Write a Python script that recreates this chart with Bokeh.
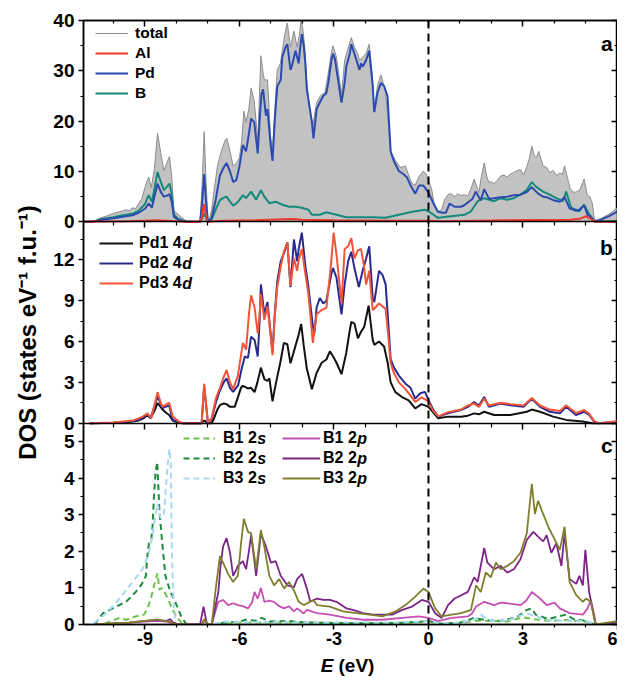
from bokeh.plotting import figure
from bokeh.layouts import column
from bokeh.models import Range1d, LinearAxis, FixedTicker, Span, Legend, LegendItem, Label
from bokeh.embed import file_html
from bokeh.resources import INLINE

FONT = "Liberation Sans"

# ---------------- panel a : total / Al / Pd / B (E in eV, DOS) ----------------
total = [(-10.95, 0), (-10.65, 0), (-10.4, 0.8), (-10.2, 1.2), (-10.0, 1.7), (-9.8, 2.0), (-9.6, 2.4),
         (-9.5, 2.2), (-9.4, 2.8), (-9.3, 2.6), (-9.2, 3.6), (-9.1, 4.6), (-9.0, 6.8), (-8.95, 7.8),
         (-8.88, 8.9), (-8.8, 6.8), (-8.7, 10.5), (-8.6, 17.6), (-8.5, 13.8), (-8.4, 10.2), (-8.3, 11.8),
         (-8.22, 13.0), (-8.15, 9.0), (-8.08, 2.2), (-8.0, 1.8), (-7.85, 1.0), (-7.7, 0.2), (-7.6, 0),
         (-7.25, 0), (-7.18, 8.0), (-7.12, 17.9), (-7.06, 8.0), (-7.0, 0.3), (-6.95, 0.5), (-6.88, 2.5),
         (-6.8, 6.5), (-6.7, 11.0), (-6.62, 13.0), (-6.55, 14.5), (-6.45, 16.3), (-6.4, 16.6), (-6.3, 14.0),
         (-6.2, 11.1), (-6.1, 11.6), (-6.0, 12.7), (-5.93, 16.0), (-5.86, 22.0), (-5.79, 19.8), (-5.7, 22.5),
         (-5.63, 26.6), (-5.53, 24.0), (-5.42, 16.3), (-5.37, 24.0), (-5.32, 33.0), (-5.26, 30.0),
         (-5.21, 28.2), (-5.11, 28.2), (-5.01, 16.9), (-4.95, 14.0), (-4.88, 22.0), (-4.8, 30.2),
         (-4.7, 31.5), (-4.64, 34.0), (-4.55, 37.5), (-4.48, 39.5), (-4.38, 34.7), (-4.27, 37.9),
         (-4.17, 34.7), (-4.1, 37.0), (-4.04, 40.2), (-3.98, 38.0), (-3.91, 33.4), (-3.86, 27.6),
         (-3.77, 22.0), (-3.67, 19.2), (-3.55, 23.7), (-3.45, 24.8), (-3.39, 25.3), (-3.29, 25.6),
         (-3.18, 29.5), (-3.1, 33.0), (-3.03, 35.0), (-2.92, 32.7), (-2.84, 29.0), (-2.76, 25.3),
         (-2.66, 32.1), (-2.55, 34.5), (-2.45, 36.6), (-2.35, 34.7), (-2.25, 33.5), (-2.19, 32.1),
         (-2.09, 32.7), (-1.98, 33.5), (-1.88, 35.3), (-1.77, 28.2), (-1.72, 22.0), (-1.62, 27.0),
         (-1.51, 29.2), (-1.43, 27.5), (-1.36, 25.6), (-1.28, 20.0), (-1.2, 13.7), (-1.12, 13.0),
         (-1.04, 12.1), (-0.89, 10.8), (-0.73, 11.1), (-0.62, 9.1), (-0.52, 7.6), (-0.42, 7.3),
         (-0.3, 9.0), (-0.16, 10.1), (-0.08, 9.5), (0.0, 8.3), (0.1, 6.5), (0.2, 2.8), (0.31, 2.0),
         (0.42, 2.5), (0.52, 4.5), (0.62, 5.4), (0.72, 5.6), (0.83, 5.0), (0.93, 5.6), (1.03, 5.2),
         (1.14, 5.4), (1.25, 5.1), (1.35, 6.6), (1.45, 8.5), (1.6, 5.8), (1.68, 9.0), (1.77, 11.7),
         (1.85, 9.0), (1.92, 7.8), (2.0, 8.0), (2.08, 7.6), (2.18, 8.2), (2.29, 9.1), (2.4, 9.3),
         (2.5, 8.9), (2.6, 9.5), (2.71, 9.8), (2.82, 10.2), (2.92, 10.4), (3.02, 9.3), (3.12, 11.0),
         (3.2, 12.5), (3.28, 15.0), (3.36, 13.2), (3.43, 12.8), (3.5, 14.0), (3.64, 11.1), (3.75, 10.8),
         (3.85, 9.8), (3.96, 10.2), (4.06, 9.2), (4.17, 9.7), (4.25, 9.4), (4.32, 11.1), (4.42, 8.5),
         (4.5, 6.6), (4.58, 5.9), (4.68, 5.9), (4.8, 6.3), (4.94, 8.5), (5.04, 5.3), (5.12, 5.0),
         (5.2, 3.7), (5.27, 0.3), (5.45, 0.6), (5.7, 1.4), (6.0, 2.8)]

pd_tot = [(-10.95, 0), (-10.65, 0), (-10.4, 0.4), (-10.0, 0.7), (-9.7, 1.0), (-9.4, 1.3), (-9.2, 1.8),
          (-9.0, 2.6), (-8.88, 3.6), (-8.78, 2.8), (-8.7, 5.0), (-8.6, 7.6), (-8.5, 6.0), (-8.4, 5.0),
          (-8.3, 5.2), (-8.22, 5.5), (-8.15, 4.0), (-8.08, 1.0), (-7.9, 0.3), (-7.7, 0), (-7.25, 0),
          (-7.18, 4.0), (-7.12, 9.5), (-7.06, 4.0), (-7.0, 0), (-6.88, 0.8), (-6.75, 4.5), (-6.62, 9.2),
          (-6.5, 10.8), (-6.41, 11.7), (-6.3, 10.0), (-6.2, 7.9), (-6.1, 8.3), (-6.0, 11.0), (-5.89, 15.3),
          (-5.79, 14.0), (-5.7, 17.5), (-5.63, 20.5), (-5.53, 19.8), (-5.42, 13.6), (-5.36, 20.0),
          (-5.3, 25.5), (-5.25, 26.3), (-5.16, 21.1), (-5.11, 22.4), (-5.01, 15.3), (-4.95, 12.1),
          (-4.88, 20.0), (-4.8, 26.9), (-4.69, 28.2), (-4.64, 32.7), (-4.54, 34.7), (-4.48, 35.3),
          (-4.38, 30.2), (-4.33, 31.1), (-4.22, 34.0), (-4.12, 31.5), (-4.07, 34.7), (-4.02, 37.3),
          (-3.96, 35.0), (-3.91, 31.5), (-3.86, 26.3), (-3.7, 19.8), (-3.65, 16.6), (-3.55, 22.4),
          (-3.45, 23.7), (-3.34, 25.0), (-3.24, 25.6), (-3.18, 27.6), (-3.08, 32.1), (-3.03, 33.4),
          (-2.97, 32.4), (-2.87, 28.2), (-2.76, 23.7), (-2.66, 27.6), (-2.61, 30.8), (-2.5, 33.4),
          (-2.45, 35.3), (-2.35, 33.4), (-2.19, 30.2), (-2.14, 31.5), (-2.09, 30.8), (-1.98, 32.1),
          (-1.88, 34.0), (-1.77, 27.0), (-1.72, 21.8), (-1.62, 25.6), (-1.51, 27.6), (-1.41, 27.0),
          (-1.3, 25.0), (-1.2, 14.0), (-1.1, 12.1), (-0.94, 10.1), (-0.8, 9.5), (-0.68, 8.8),
          (-0.55, 7.0), (-0.42, 5.6), (-0.3, 7.2), (-0.16, 7.2), (0.0, 5.8), (0.15, 3.8), (0.3, 2.0),
          (0.45, 1.8), (0.55, 1.8), (0.67, 3.6), (0.83, 3.0), (1.03, 3.0), (1.14, 3.3), (1.4, 4.6),
          (1.5, 6.0), (1.66, 4.3), (1.77, 6.5), (1.92, 4.6), (2.08, 4.7), (2.29, 4.9), (2.5, 5.0),
          (2.7, 5.3), (2.92, 5.4), (3.12, 5.9), (3.28, 6.9), (3.48, 5.6), (3.64, 5.0), (3.75, 4.9),
          (3.96, 4.3), (4.17, 4.0), (4.32, 4.9), (4.48, 2.7), (4.68, 2.2), (4.79, 2.4), (4.94, 3.3),
          (5.05, 1.4), (5.15, 1.1), (5.25, 0.2), (5.3, 0), (5.5, 0.5), (5.75, 1.2), (6.0, 2.1)]

b_tot = [(-10.95, 0), (-10.65, 0), (-10.4, 0.5), (-10.0, 0.9), (-9.7, 1.3), (-9.4, 1.6), (-9.2, 2.2),
         (-9.0, 3.5), (-8.88, 5.3), (-8.78, 4.0), (-8.7, 6.5), (-8.6, 9.9), (-8.5, 8.0), (-8.4, 6.3),
         (-8.3, 7.0), (-8.22, 7.6), (-8.15, 5.5), (-8.08, 1.4), (-7.95, 0.6), (-7.7, 0.1), (-7.6, 0),
         (-7.25, 0), (-7.18, 0.8), (-7.12, 1.7), (-7.06, 0.8), (-7.0, 0), (-6.88, 0.5), (-6.75, 2.5),
         (-6.62, 4.3), (-6.5, 4.8), (-6.41, 5.0), (-6.3, 4.0), (-6.2, 3.2), (-6.04, 4.0), (-5.89, 5.3),
         (-5.79, 4.7), (-5.63, 6.0), (-5.47, 4.4), (-5.32, 6.3), (-5.21, 5.0), (-5.05, 3.7), (-4.85, 4.0),
         (-4.64, 3.4), (-4.43, 3.0), (-4.22, 3.0), (-4.02, 2.8), (-3.81, 2.4), (-3.7, 1.4), (-3.45, 1.4),
         (-3.24, 1.9), (-2.92, 1.4), (-2.61, 0.9), (-2.19, 0.9), (-1.77, 0.9), (-1.36, 0.8), (-0.94, 1.4),
         (-0.52, 2.0), (-0.11, 2.4), (0.0, 2.1), (0.3, 0.8), (0.72, 1.1), (1.14, 1.4), (1.35, 2.1),
         (1.56, 4.1), (1.77, 4.7), (2.08, 4.1), (2.29, 4.7), (2.5, 4.4), (2.71, 4.7), (2.92, 5.4),
         (3.12, 6.3), (3.28, 7.9), (3.43, 6.9), (3.64, 6.0), (3.85, 5.4), (4.06, 4.7), (4.27, 4.1),
         (4.37, 6.0), (4.53, 2.8), (4.79, 2.1), (4.94, 3.4), (5.1, 1.5), (5.25, 0.3), (5.3, 0.1),
         (6.0, 0.1)]

al_tot = [(-10.95, 0), (-10.5, 0.05), (-9.5, 0.1), (-8.6, 0.3), (-8.0, 0.1), (-7.7, 0), (-7.25, 0),
          (-7.2, 0.8), (-7.12, 3.5), (-7.05, 0.8), (-7.0, 0), (-6.9, 0.05), (-6.5, 0.2), (-5.5, 0.3),
          (-4.6, 0.5), (-4.3, 0.55), (-4.0, 0.4), (-3.0, 0.3), (-2.0, 0.25), (-1.0, 0.2), (0.0, 0.2),
          (0.5, 0.1), (1.5, 0.2), (2.5, 0.3), (3.5, 0.35), (4.5, 0.4), (4.8, 0.6), (5.0, 1.1),
          (5.15, 0.6), (5.3, 0), (6.0, 0)]

# ---------------- panel b : Pd 4d partial DOS ----------------
pd1_4d = [(-10.75, 0), (-10.0, 0.03), (-9.5, 0.08), (-9.2, 0.2), (-9.05, 0.35), (-8.92, 0.6), (-8.82, 0.35),
          (-8.7, 0.9), (-8.6, 1.48), (-8.5, 1.2), (-8.44, 1.0), (-8.35, 0.8), (-8.23, 0.6), (-8.12, 0.2),
          (-7.95, 0.05), (-7.8, 0), (-7.2, 0), (-7.12, 0.2), (-7.0, 0), (-6.88, 0), (-6.8, 0.4), (-6.7, 1.0),
          (-6.62, 1.32), (-6.5, 1.45), (-6.41, 1.4), (-6.3, 1.2), (-6.15, 1.2), (-6.05, 1.9), (-5.95, 2.6),
          (-5.89, 2.75), (-5.73, 2.55), (-5.63, 2.6), (-5.52, 2.28), (-5.43, 3.0), (-5.32, 4.08),
          (-5.21, 3.24), (-5.11, 3.1), (-5.05, 3.3), (-4.95, 1.6), (-4.88, 2.5), (-4.8, 3.4), (-4.7, 4.5),
          (-4.59, 5.9), (-4.48, 5.8), (-4.38, 4.4), (-4.22, 5.7), (-4.12, 6.5), (-4.04, 7.3), (-3.96, 5.7),
          (-3.86, 4.0), (-3.7, 2.5), (-3.55, 3.7), (-3.39, 4.44), (-3.24, 4.68), (-3.13, 5.28),
          (-3.03, 4.92), (-2.92, 4.44), (-2.76, 3.6), (-2.61, 5.16), (-2.5, 6.8), (-2.45, 7.44),
          (-2.35, 7.32), (-2.24, 6.24), (-2.14, 6.72), (-2.04, 7.08), (-1.9, 8.64), (-1.77, 6.12),
          (-1.72, 5.76), (-1.57, 6.0), (-1.41, 5.64), (-1.3, 4.5), (-1.2, 3.0), (-1.05, 2.28),
          (-0.84, 1.92), (-0.63, 1.68), (-0.42, 1.08), (-0.22, 1.4), (0.0, 1.2), (0.15, 0.8),
          (0.31, 0.36), (0.62, 0.48), (1.03, 0.48), (1.25, 0.55), (1.45, 0.72), (1.6, 0.65),
          (1.77, 0.84), (2.08, 0.6), (2.6, 0.6), (3.12, 0.84), (3.28, 1.0), (3.54, 0.84), (3.96, 0.48),
          (4.37, 0.24), (4.89, 0.12), (5.2, 0), (6.0, 0)]

pd2_4d = [(-10.75, 0), (-10.0, 0.03), (-9.5, 0.1), (-9.2, 0.25), (-9.05, 0.45), (-8.92, 0.65), (-8.82, 0.4),
          (-8.7, 1.2), (-8.6, 2.0), (-8.5, 1.4), (-8.44, 1.1), (-8.35, 1.2), (-8.23, 1.3), (-8.12, 0.25),
          (-7.95, 0.08), (-7.8, 0), (-7.2, 0), (-7.12, 2.7), (-7.0, 0), (-6.88, 0.3), (-6.75, 1.5),
          (-6.62, 2.4), (-6.5, 3.0), (-6.41, 3.3), (-6.3, 2.6), (-6.2, 2.3), (-6.04, 2.8), (-5.93, 4.0),
          (-5.83, 4.9), (-5.73, 4.8), (-5.63, 6.36), (-5.52, 6.12), (-5.42, 4.9), (-5.36, 7.5),
          (-5.32, 10.2), (-5.21, 8.0), (-5.11, 8.9), (-5.01, 6.6), (-4.95, 5.2), (-4.88, 8.0),
          (-4.8, 10.4), (-4.69, 11.9), (-4.57, 12.6), (-4.48, 13.3), (-4.38, 10.0), (-4.27, 13.5),
          (-4.17, 11.9), (-4.12, 12.8), (-4.02, 14.0), (-3.91, 11.6), (-3.81, 10.0), (-3.67, 7.1),
          (-3.62, 6.6), (-3.55, 8.5), (-3.45, 9.2), (-3.34, 8.8), (-3.24, 9.0), (-3.08, 11.0),
          (-3.03, 11.4), (-2.92, 10.7), (-2.76, 8.0), (-2.66, 10.2), (-2.55, 11.9), (-2.45, 12.6),
          (-2.35, 11.4), (-2.21, 10.0), (-2.09, 11.2), (-1.98, 12.1), (-1.88, 13.0), (-1.77, 9.2),
          (-1.72, 8.9), (-1.57, 11.2), (-1.46, 10.9), (-1.36, 10.2), (-1.28, 7.5), (-1.2, 4.7),
          (-1.1, 4.1), (-0.94, 3.5), (-0.73, 2.9), (-0.57, 2.6), (-0.42, 1.8), (-0.26, 2.2),
          (-0.11, 2.3), (0.0, 1.7), (0.15, 1.0), (0.31, 0.48), (0.62, 0.72), (1.03, 0.96), (1.25, 1.2),
          (1.45, 1.56), (1.6, 1.3), (1.77, 1.92), (1.92, 1.2), (2.29, 1.44), (2.6, 1.32), (3.02, 1.2),
          (3.28, 1.8), (3.54, 1.2), (3.85, 0.84), (4.17, 0.72), (4.37, 1.2), (4.68, 0.6), (4.94, 0.84),
          (5.1, 0.6), (5.26, 0.12), (5.4, 0), (6.0, 0.1)]

pd3_4d = [(-10.75, 0), (-10.0, 0.05), (-9.38, 0.19), (-9.07, 0.48), (-8.92, 0.72), (-8.8, 0.36), (-8.7, 1.3),
          (-8.6, 2.28), (-8.5, 1.5), (-8.44, 1.2), (-8.35, 1.35), (-8.23, 1.5), (-8.12, 0.5), (-7.92, 0.1),
          (-7.8, 0), (-7.2, 0), (-7.12, 2.9), (-7.0, 0), (-6.88, 0.4), (-6.75, 1.8), (-6.62, 2.6),
          (-6.5, 3.4), (-6.41, 3.9), (-6.3, 3.0), (-6.2, 2.5), (-6.05, 3.5), (-5.89, 5.9), (-5.79, 5.4),
          (-5.7, 8.0), (-5.63, 9.4), (-5.52, 8.5), (-5.42, 6.6), (-5.36, 8.0), (-5.32, 9.5), (-5.21, 7.6),
          (-5.11, 8.6), (-5.01, 6.4), (-4.95, 5.0), (-4.88, 7.8), (-4.8, 10.0), (-4.69, 11.5),
          (-4.59, 12.6), (-4.48, 13.3), (-4.38, 10.1), (-4.27, 12.1), (-4.17, 11.2), (-4.12, 12.0),
          (-4.02, 12.8), (-3.91, 11.0), (-3.81, 9.5), (-3.67, 5.9), (-3.55, 8.0), (-3.4, 8.3),
          (-3.24, 8.5), (-3.1, 11.5), (-3.01, 14.0), (-2.92, 12.4), (-2.76, 8.8), (-2.66, 12.8),
          (-2.55, 13.0), (-2.45, 13.6), (-2.35, 12.1), (-2.24, 12.7), (-2.14, 12.8), (-2.05, 11.6),
          (-1.98, 10.2), (-1.88, 11.2), (-1.77, 8.3), (-1.57, 8.8), (-1.36, 8.4), (-1.28, 6.5),
          (-1.2, 4.4), (-1.1, 3.7), (-0.94, 3.0), (-0.73, 2.5), (-0.42, 1.56), (-0.22, 1.9), (0.0, 1.6),
          (0.15, 0.9), (0.31, 0.5), (0.62, 0.8), (1.03, 1.0), (1.25, 1.3), (1.45, 1.44), (1.6, 1.2),
          (1.77, 1.8), (1.92, 1.3), (2.29, 1.5), (2.6, 1.4), (3.02, 1.3), (3.28, 1.85), (3.54, 1.3),
          (3.85, 1.0), (4.17, 0.9), (4.37, 1.32), (4.68, 0.75), (4.94, 0.96), (5.1, 0.7), (5.26, 0.15),
          (5.4, 0), (6.0, 0.15)]

# ---------------- panel c : B 2s / 2p partial DOS ----------------
b1_2s = [(-10.6, 0), (-10.3, 0.02), (-9.8, 0.18), (-9.6, 0.13), (-9.3, 0.22), (-9.03, 0.27), (-8.91, 0.45),
         (-8.8, 0.75), (-8.7, 1.1), (-8.6, 1.4), (-8.54, 0.95), (-8.45, 1.0), (-8.3, 0.76), (-8.14, 0.44),
         (-7.98, 0.18), (-7.83, 0.04), (-7.7, 0), (-7.2, 0), (-7.12, 0.03), (-6.9, 0), (-6.0, 0.05),
         (-4.0, 0.05), (-2.0, 0.04), (-0.5, 0.05), (0.0, 0.1), (0.3, 0.02), (1.0, 0.05), (1.5, 0.1),
         (2.0, 0.1), (2.5, 0.08), (3.0, 0.2), (3.3, 0.15), (3.8, 0.1), (4.4, 0.12), (5.0, 0.08),
         (5.3, 0), (6.0, 0)]

b2_2s = [(-10.6, 0), (-10.33, 0.31), (-9.91, 0.49), (-9.6, 0.62), (-9.29, 0.89), (-9.1, 1.1), (-8.97, 1.33),
         (-8.92, 1.9), (-8.87, 2.22), (-8.8, 2.3), (-8.76, 2.67), (-8.71, 3.56), (-8.66, 4.18),
         (-8.61, 4.44), (-8.54, 3.11), (-8.45, 2.22), (-8.35, 1.33), (-8.19, 0.89), (-8.04, 0.62),
         (-7.83, 0.18), (-7.67, 0), (-6.9, 0), (-6.5, 0.05), (-6.0, 0.08), (-5.8, 0.13), (-5.5, 0.1),
         (-5.3, 0.18), (-5.0, 0.08), (-4.5, 0.1), (-4.0, 0.06), (-3.0, 0.04), (-2.0, 0.03), (-1.0, 0.04),
         (-0.2, 0.08), (0.0, 0.1), (0.3, 0.02), (1.0, 0.05), (1.45, 0.18), (1.8, 0.12), (2.3, 0.1),
         (2.8, 0.2), (3.12, 0.4), (3.28, 0.44), (3.4, 0.27), (3.8, 0.15), (4.37, 0.27), (4.6, 0.15),
         (5.0, 0.1), (5.25, 0), (6.0, 0)]

b3_2s = [(-10.62, 0.04), (-10.22, 0.31), (-9.8, 0.71), (-9.39, 1.16), (-9.08, 1.51), (-8.87, 1.96),
         (-8.77, 2.4), (-8.68, 2.9), (-8.6, 3.3), (-8.5, 2.9), (-8.4, 3.0), (-8.33, 3.8), (-8.27, 4.44),
         (-8.22, 4.8), (-8.18, 4.44), (-8.14, 1.78), (-8.08, 0.44), (-8.02, 0), (-6.9, 0), (-6.5, 0.08),
         (-6.0, 0.06), (-5.0, 0.07), (-4.0, 0.05), (-3.0, 0.05), (-2.0, 0.06), (-1.0, 0.05), (-0.3, 0.08),
         (0.0, 0.1), (0.3, 0.03), (1.0, 0.05), (1.5, 0.15), (1.66, 0.27), (1.9, 0.12), (2.5, 0.1),
         (3.12, 0.31), (3.3, 0.25), (3.8, 0.12), (4.3, 0.1), (5.0, 0.1), (5.25, 0), (6.0, 0)]

b1_2p = [(-10.6, 0), (-9.5, 0.05), (-9.0, 0.08), (-8.6, 0.1), (-8.3, 0.08), (-8.1, 0.02), (-7.9, 0),
         (-7.2, 0), (-7.12, 0.1), (-7.0, 0), (-6.88, 0), (-6.75, 0.4), (-6.67, 0.62), (-6.52, 0.67),
         (-6.36, 0.53), (-6.2, 0.58), (-6.05, 0.53), (-5.9, 0.5), (-5.73, 0.44), (-5.6, 0.6), (-5.52, 0.89),
         (-5.42, 0.7), (-5.32, 1.0), (-5.21, 0.62), (-5.05, 0.65), (-4.9, 0.62), (-4.74, 0.5),
         (-4.58, 0.44), (-4.43, 0.5), (-4.27, 0.36), (-4.17, 0.44), (-3.96, 0.3), (-3.86, 0.4),
         (-3.54, 0.31), (-3.13, 0.27), (-2.6, 0.18), (-2.08, 0.13), (-1.46, 0.13), (-0.83, 0.18),
         (-0.31, 0.22), (0.0, 0.18), (0.31, 0.09), (0.73, 0.18), (1.25, 0.22), (1.38, 0.3), (1.51, 0.49),
         (1.77, 0.62), (2.08, 0.53), (2.3, 0.6), (2.5, 0.58), (2.92, 0.53), (3.1, 0.65), (3.28, 0.89),
         (3.54, 0.71), (3.75, 0.53), (4.0, 0.6), (4.17, 0.44), (4.48, 0.31), (4.9, 0.27), (5.05, 0.44),
         (5.15, 0.67), (5.26, 0.27), (5.31, 0), (6.0, 0)]

b2_2p = [(-10.6, 0), (-9.5, 0.05), (-9.0, 0.1), (-8.6, 0.12), (-8.3, 0.1), (-8.2, 0.15), (-8.1, 0.05),
         (-7.9, 0), (-7.25, 0), (-7.14, 0.49), (-7.03, 0), (-6.88, 0), (-6.67, 0.89), (-6.6, 1.6),
         (-6.52, 2.13), (-6.41, 2.36), (-6.3, 1.96), (-6.2, 1.33), (-6.1, 1.5), (-6.05, 1.6), (-5.89, 1.73),
         (-5.79, 1.51), (-5.7, 2.0), (-5.63, 2.44), (-5.55, 1.9), (-5.47, 1.33), (-5.38, 2.0),
         (-5.32, 2.49), (-5.16, 2.13), (-5.0, 1.69), (-4.85, 1.73), (-4.69, 1.33), (-4.48, 1.07),
         (-4.27, 1.02), (-4.17, 1.24), (-4.01, 1.38), (-3.86, 0.98), (-3.75, 0.62), (-3.54, 0.71),
         (-3.33, 0.67), (-3.13, 0.67), (-2.92, 0.62), (-2.6, 0.44), (-2.4, 0.4), (-2.08, 0.31),
         (-1.77, 0.27), (-1.46, 0.27), (-1.15, 0.27), (-0.83, 0.4), (-0.52, 0.49), (-0.21, 0.67),
         (0.0, 0.62), (0.21, 0.31), (0.42, 0.18), (0.62, 0.53), (0.83, 0.71), (1.04, 0.8), (1.25, 0.89),
         (1.45, 1.29), (1.56, 1.16), (1.77, 2.09), (1.87, 1.69), (2.08, 1.51), (2.29, 1.6), (2.5, 1.42),
         (2.71, 1.51), (2.92, 1.78), (3.12, 2.31), (3.33, 2.53), (3.48, 2.4), (3.64, 2.27), (3.75, 2.44),
         (3.9, 1.96), (4.06, 2.22), (4.22, 1.6), (4.32, 2.49), (4.48, 1.24), (4.69, 1.11), (4.79, 1.33),
         (4.9, 1.07), (4.98, 2.04), (5.1, 0.89), (5.26, 0.18), (5.31, 0), (6.0, 0.05)]

b3_2p = [(-10.6, 0), (-9.5, 0.05), (-9.0, 0.1), (-8.8, 0.12), (-8.6, 0.14), (-8.4, 0.1), (-8.2, 0.08),
         (-8.1, 0.02), (-7.9, 0), (-7.2, 0), (-7.12, 0.15), (-7.0, 0), (-6.88, 0), (-6.75, 1.0),
         (-6.62, 1.87), (-6.52, 1.69), (-6.36, 1.38), (-6.2, 1.16), (-6.05, 1.33), (-5.95, 2.2),
         (-5.86, 2.89), (-5.73, 2.53), (-5.63, 2.49), (-5.47, 1.51), (-5.32, 2.58), (-5.21, 2.13),
         (-5.05, 1.33), (-4.9, 1.07), (-4.74, 1.24), (-4.58, 0.98), (-4.43, 1.16), (-4.27, 0.93),
         (-4.12, 0.62), (-3.96, 0.53), (-3.65, 0.67), (-3.54, 0.53), (-3.13, 0.49), (-2.71, 0.36),
         (-2.29, 0.31), (-1.88, 0.27), (-1.46, 0.22), (-1.04, 0.36), (-0.73, 0.53), (-0.42, 0.76),
         (-0.16, 0.98), (0.0, 0.89), (0.21, 0.44), (0.42, 0.22), (0.73, 0.27), (1.04, 0.31), (1.35, 0.4),
         (1.51, 1.07), (1.66, 0.89), (1.82, 1.42), (1.98, 1.29), (2.14, 1.69), (2.29, 1.51), (2.5, 1.6),
         (2.71, 1.73), (2.92, 1.96), (3.12, 2.49), (3.28, 3.84), (3.38, 3.02), (3.48, 3.38), (3.64, 3.02),
         (3.8, 2.67), (3.96, 2.4), (4.17, 2.04), (4.32, 2.67), (4.48, 1.16), (4.69, 0.8), (4.9, 0.62),
         (5.0, 0.71), (5.15, 0.62), (5.26, 0.18), (5.31, 0), (6.0, 0.09)]

x_major = [-9, -6, -3, 0, 3, 6]
x_minor = [-10, -8, -7, -5, -4, -2, -1, 1, 2, 4, 5]
ya_max, ya_major, ya_minor = 40, [0, 10, 20, 30, 40], [5, 15, 25, 35]
yb_max, yb_major, yb_minor = 14.8, [0, 3, 6, 9, 12], [1.5, 4.5, 7.5, 10.5, 13.5]
yc_max, yc_major, yc_minor = 5.5, [0, 1, 2, 3, 4, 5], [0.5, 1.5, 2.5, 3.5, 4.5]


def xs(d):
    return [q[0] for q in d]


def ys(d):
    return [q[1] for q in d]


# the shared frame holds three stacked slots: c = [0,1], b = [1,2], a = [2,3]
slots = [(2, ya_max, ya_major, ya_minor), (1, yb_max, yb_major, yb_minor), (0, yc_max, yc_major, yc_minor)]
ymaj_pos, ymin_pos, ylabels = [], [], {}
for k, vmax, vmaj, vmin in slots:
    for v in vmaj:
        pos = k + v / vmax
        ymaj_pos.append(pos)
        ylabels[pos] = str(v)
    for v in vmin:
        ymin_pos.append(k + v / vmax)

W = 617
ML = 83
xr = Range1d(-10.95, 6.0)

p = figure(width=W, height=650, x_range=xr, y_range=Range1d(0, 3),
           output_backend="svg", toolbar_location=None,
           x_axis_location=None, y_axis_location=None,
           min_border_left=ML, min_border_right=0, min_border_top=20, min_border_bottom=26,
           background_fill_color="white", border_fill_color="white")
p.extra_y_ranges = {"a": Range1d(-2 * ya_max, ya_max),
                    "b": Range1d(-yb_max, 2 * yb_max),
                    "c": Range1d(0, 3 * yc_max)}
p.xgrid.visible = False
p.ygrid.visible = False
p.outline_line_color = "black"
p.outline_line_width = 1.5
p.outline_line_alpha = 1.0


def style(ax, size="19px"):
    ax.axis_line_color = "black"
    ax.axis_line_width = 1.5
    ax.major_tick_line_color = "black"
    ax.major_tick_line_width = 1.5
    ax.minor_tick_line_color = "black"
    ax.minor_tick_line_width = 1.2
    ax.major_label_text_font = FONT
    ax.major_label_text_font_style = "bold"
    ax.major_label_text_font_size = size
    ax.major_label_text_color = "black"


def ticks(ax, tin, tout, label=False):
    style(ax, "18px" if label else "19px")
    ax.major_tick_in = tin
    ax.major_tick_out = tout
    ax.minor_tick_in = tin // 2
    ax.minor_tick_out = tout // 2 + (1 if tout else 0)
    if not label:
        ax.major_label_text_color = None
        ax.major_label_standoff = 0


left = LinearAxis(ticker=FixedTicker(ticks=ymaj_pos, minor_ticks=ymin_pos))
ticks(left, 0, 5, label=True)
left.major_label_text_font_size = "19px"
left.major_label_standoff = 4
left.major_label_overrides = ylabels
left.axis_label = "DOS  (states  eV\u207b\u00b9  f.u.\u207b\u00b9)"
left.axis_label_text_font = FONT
left.axis_label_text_font_style = "bold"
left.axis_label_text_font_size = "24px"
left.axis_label_text_color = "black"
left.axis_label_standoff = 9
p.add_layout(left, "left")

right = LinearAxis(ticker=FixedTicker(ticks=ymaj_pos, minor_ticks=ymin_pos))
ticks(right, 6, 0)
p.add_layout(right, "right")

top = LinearAxis(ticker=FixedTicker(ticks=x_major, minor_ticks=x_minor))
ticks(top, 6, 0)
p.add_layout(top, "above")

bottom = LinearAxis(ticker=FixedTicker(ticks=x_major, minor_ticks=x_minor))
ticks(bottom, 0, 5, label=True)
bottom.major_label_standoff = 2
bottom.major_label_overrides = {t: str(t) for t in x_major}
p.add_layout(bottom, "below")

# panel separators carry downward ticks like the reference
for loc in (2, 1):
    sep = LinearAxis(ticker=FixedTicker(ticks=x_major, minor_ticks=x_minor), fixed_location=loc)
    ticks(sep, 0, 6)
    p.add_layout(sep, "below")

p.add_layout(Span(location=0, dimension="height", line_color="black", line_width=2, line_dash="8 5"))

# ---- panel a
p.varea(x=xs(total), y1=0, y2=ys(total), fill_color="#c2c2c2", y_range_name="a")
r_tot = p.line(xs(total), ys(total), line_color="#8c8c8c", line_width=1, y_range_name="a")
r_b = p.line(xs(b_tot), ys(b_tot), line_color="#138a7a", line_width=2, y_range_name="a")
r_pd = p.line(xs(pd_tot), ys(pd_tot), line_color="#2b4bb0", line_width=2, y_range_name="a")
r_al = p.line(xs(al_tot), ys(al_tot), line_color="#ef3a2a", line_width=2, y_range_name="a")

# ---- panel b
r1 = p.line(xs(pd1_4d), ys(pd1_4d), line_color="#111111", line_width=2, y_range_name="b")
r2 = p.line(xs(pd2_4d), ys(pd2_4d), line_color="#2a2a8e", line_width=2, y_range_name="b")
r3 = p.line(xs(pd3_4d), ys(pd3_4d), line_color="#f2553a", line_width=2, y_range_name="b")

# ---- panel c
s1 = p.line(xs(b1_2s), ys(b1_2s), line_color="#6cc24a", line_width=2, line_dash="6 4", y_range_name="c")
s2 = p.line(xs(b2_2s), ys(b2_2s), line_color="#1f8b3f", line_width=2, line_dash="6 4", y_range_name="c")
s3 = p.line(xs(b3_2s), ys(b3_2s), line_color="#a9d8f2", line_width=2, line_dash="6 4", y_range_name="c")
q1 = p.line(xs(b1_2p), ys(b1_2p), line_color="#c64fb4", line_width=1.8, y_range_name="c")
q2 = p.line(xs(b2_2p), ys(b2_2p), line_color="#7c2487", line_width=1.8, y_range_name="c")
q3 = p.line(xs(b3_2p), ys(b3_2p), line_color="#7f7f2f", line_width=1.8, y_range_name="c")


def legend(items, vx, vy, gw, standoff, size="16px"):
    lg = Legend(items=items, location=(vx, vy), padding=0, margin=0, spacing=0,
                label_height=20, glyph_height=20, glyph_width=gw, label_standoff=standoff,
                label_text_font=FONT, label_text_font_style="bold", label_text_font_size=size,
                label_text_color="black", border_line_color=None, background_fill_alpha=0)
    p.add_layout(lg)


def italic(x, y, t, size="16px"):
    p.add_layout(Label(x=x, y=y, x_units="screen", y_units="screen", text=t, text_font=FONT,
                       text_font_style="bold italic", text_font_size=size, text_color="black",
                       text_baseline="middle", text_align="left"))


def corner(y, rng, t):
    p.add_layout(Label(x=5.85, y=y, y_range_name=rng, text=t, text_font=FONT, text_font_style="bold",
                       text_font_size="21px", text_color="black", text_align="right",
                       text_baseline="alphabetic"))


legend([LegendItem(label="total", renderers=[r_tot]), LegendItem(label="Al", renderers=[r_al]),
        LegendItem(label="Pd", renderers=[r_pd]), LegendItem(label="B", renderers=[r_b])],
       12, 521, 33, 7, size="15.5px")
legend([LegendItem(label="Pd1 4", renderers=[r1]), LegendItem(label="Pd2 4", renderers=[r2]),
        LegendItem(label="Pd3 4", renderers=[r3])], 16, 330.7, 34, 6)
for i in range(3):
    italic(16 + 34 + 6 + 42.7, 380.7 - 20 * i, "d")
legend([LegendItem(label="B1 2", renderers=[s1]), LegendItem(label="B2 2", renderers=[s2]),
        LegendItem(label="B3 2", renderers=[s3])], 100, 136.3, 32, 8)
legend([LegendItem(label="B1 2", renderers=[q1]), LegendItem(label="B2 2", renderers=[q2]),
        LegendItem(label="B3 2", renderers=[q3])], 199, 136.3, 38, 3)
for i in range(3):
    italic(100 + 32 + 8 + 33.8, 186.3 - 20 * i, "s")
    italic(199 + 38 + 3 + 33.8, 186.3 - 20 * i, "p")

corner(35.5, "a", "a")
corner(12.95, "b", "b")
corner(4.89, "c", "c")

# ---- x axis title strip (keeps the italic E as real text)
px = figure(width=W, height=30, x_range=xr, y_range=Range1d(0, 1), output_backend="svg",
            toolbar_location=None, x_axis_location=None, y_axis_location=None,
            min_border_left=ML, min_border_right=0, min_border_top=0, min_border_bottom=0,
            background_fill_color="white", border_fill_color="white", outline_line_color=None)
px.xgrid.visible = False
px.ygrid.visible = False
px.add_layout(Label(x=250, y=15, x_units="screen", y_units="screen", text="E", text_font=FONT,
                    text_font_style="bold italic", text_font_size="19px", text_color="black",
                    text_align="right", text_baseline="middle"))
px.add_layout(Label(x=255, y=15, x_units="screen", y_units="screen", text="(eV)", text_font=FONT,
                    text_font_style="bold", text_font_size="19px", text_color="black",
                    text_align="left", text_baseline="middle"))

layout = column(p, px, spacing=0)
open("out.html", "w").write(file_html(layout, INLINE))
